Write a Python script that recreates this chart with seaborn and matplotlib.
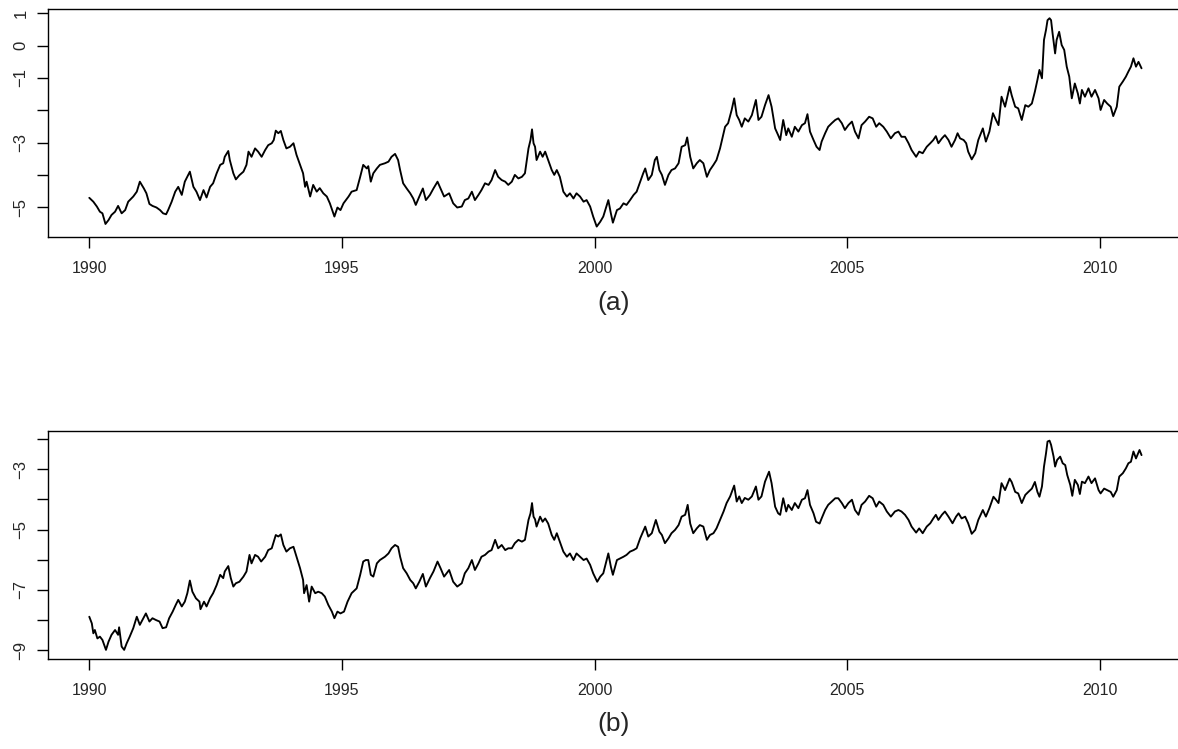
import numpy as np
import pandas as pd
import matplotlib
matplotlib.use("Agg")
import matplotlib.pyplot as plt
import seaborn as sns

sns.set_style("ticks")
plt.rcParams['font.family'] = ['Liberation Sans', 'DejaVu Sans']
plt.rcParams['axes.unicode_minus'] = True

# series (a): decimal year / value
years_a = [
    1990.00, 1990.08, 1990.15, 1990.21, 1990.26, 1990.32, 1990.38, 1990.44, 1990.51, 1990.57,
    1990.64, 1990.71, 1990.77, 1990.87, 1990.94, 1991.00, 1991.08, 1991.13, 1991.19, 1991.25,
    1991.33, 1991.40, 1991.46, 1991.52, 1991.56, 1991.63, 1991.70, 1991.76, 1991.83, 1991.89,
    1991.99, 1992.06, 1992.12, 1992.19, 1992.26, 1992.32, 1992.39, 1992.45, 1992.52, 1992.59,
    1992.65, 1992.68, 1992.75, 1992.78, 1992.85, 1992.90, 1992.97, 1993.05, 1993.11, 1993.15,
    1993.21, 1993.28, 1993.34, 1993.41, 1993.48, 1993.54, 1993.61, 1993.65, 1993.69, 1993.74,
    1993.79, 1993.84, 1993.90, 1993.97, 1994.04, 1994.10, 1994.17, 1994.23, 1994.27, 1994.30,
    1994.37, 1994.43, 1994.50, 1994.56, 1994.63, 1994.70, 1994.76, 1994.85, 1994.91, 1994.97,
    1995.03, 1995.13, 1995.19, 1995.29, 1995.36, 1995.42, 1995.49, 1995.52, 1995.57, 1995.62,
    1995.69, 1995.75, 1995.85, 1995.92, 1995.98, 1996.05, 1996.11,
    1996.15, 1996.21, 1996.28, 1996.35, 1996.41, 1996.46, 1996.53, 1996.60, 1996.66, 1996.74,
    1996.81, 1996.89, 1996.95, 1997.02, 1997.12, 1997.20, 1997.28, 1997.37, 1997.43, 1997.50,
    1997.57, 1997.63, 1997.70, 1997.76, 1997.83, 1997.90, 1997.96, 1998.03, 1998.09, 1998.16,
    1998.23, 1998.29, 1998.36, 1998.42, 1998.49, 1998.56, 1998.62, 1998.69, 1998.73, 1998.76,
    1998.79, 1998.82, 1998.85, 1998.92, 1998.97, 1999.02, 1999.08, 1999.15, 1999.20, 1999.25,
    1999.31, 1999.38, 1999.45, 1999.51, 1999.58, 1999.64, 1999.71, 1999.78, 1999.84, 1999.91,
    1999.97, 2000.04, 2000.11, 2000.17, 2000.27, 2000.32, 2000.36, 2000.44, 2000.50, 2000.57,
    2000.63, 2000.70, 2000.77, 2000.83, 2000.90, 2000.96, 2001.00, 2001.06, 2001.13, 2001.19,
    2001.23, 2001.28, 2001.33, 2001.39, 2001.46, 2001.52, 2001.59, 2001.66, 2001.72, 2001.79,
    2001.83, 2001.89, 2001.95, 2002.02, 2002.08, 2002.15, 2002.22, 2002.28, 2002.35, 2002.41,
    2002.48, 2002.55, 2002.58, 2002.64, 2002.71, 2002.76, 2002.81, 2002.86, 2002.91, 2002.97,
    2003.04, 2003.11, 2003.19, 2003.24, 2003.30, 2003.37, 2003.44, 2003.50, 2003.57, 2003.63,
    2003.67, 2003.73, 2003.79, 2003.83, 2003.90, 2003.96, 2004.03, 2004.10, 2004.16, 2004.21,
    2004.26, 2004.33, 2004.39, 2004.45, 2004.49, 2004.56, 2004.62, 2004.69, 2004.76, 2004.82,
    2004.89, 2004.95, 2005.02, 2005.09, 2005.15, 2005.22, 2005.28, 2005.35, 2005.43, 2005.50,
    2005.57, 2005.63, 2005.71, 2005.78, 2005.86, 2005.94, 2006.01, 2006.07, 2006.14, 2006.21,
    2006.27, 2006.36, 2006.42, 2006.49, 2006.57, 2006.64, 2006.70, 2006.75, 2006.80, 2006.87,
    2006.93, 2007.00, 2007.06, 2007.13, 2007.18, 2007.23, 2007.30, 2007.35, 2007.39, 2007.46,
    2007.53, 2007.59, 2007.68, 2007.74, 2007.81, 2007.88, 2007.94, 2007.99, 2008.05, 2008.12,
    2008.21, 2008.25, 2008.32, 2008.38, 2008.45, 2008.52, 2008.58, 2008.65, 2008.71, 2008.76,
    2008.80, 2008.85, 2008.89, 2008.93, 2008.96, 2009.00, 2009.03, 2009.06, 2009.11, 2009.14,
    2009.19, 2009.24, 2009.29, 2009.34, 2009.39, 2009.44, 2009.50, 2009.56, 2009.60, 2009.64,
    2009.70, 2009.77, 2009.83, 2009.90, 2009.97, 2010.01, 2010.08, 2010.14, 2010.21, 2010.26,
    2010.33, 2010.38, 2010.45, 2010.51, 2010.56, 2010.61, 2010.66, 2010.71, 2010.76, 2010.82,
]
values_a = [
    -4.71, -4.83, -4.98, -5.14, -5.19, -5.52, -5.40, -5.24, -5.14, -4.96,
    -5.19, -5.09, -4.83, -4.67, -4.52, -4.21, -4.42, -4.57, -4.90, -4.96,
    -5.01, -5.09, -5.19, -5.22, -5.09, -4.83, -4.52, -4.37, -4.62, -4.21,
    -3.90, -4.37, -4.52, -4.78, -4.47, -4.70, -4.37, -4.26, -3.95, -3.69,
    -3.64, -3.44, -3.26, -3.54, -3.95, -4.14, -4.01, -3.90, -3.69, -3.28,
    -3.44, -3.18, -3.28, -3.44, -3.23, -3.08, -3.02, -2.92, -2.63, -2.71,
    -2.64, -2.92, -3.18, -3.13, -3.02, -3.38, -3.69, -3.95, -4.37, -4.21,
    -4.67, -4.31, -4.52, -4.41, -4.57, -4.67, -4.88, -5.29, -5.01, -5.09,
    -4.88, -4.67, -4.52, -4.47, -4.06, -3.69, -3.80, -3.73, -4.21, -3.95,
    -3.80, -3.69, -3.64, -3.59, -3.44, -3.35, -3.54,
    -3.85, -4.26, -4.42, -4.57, -4.73, -4.93, -4.67, -4.42, -4.78, -4.62,
    -4.42, -4.21, -4.42, -4.67, -4.57, -4.88, -5.01, -4.98, -4.78, -4.73,
    -4.52, -4.78, -4.62, -4.47, -4.26, -4.31, -4.16, -3.85, -4.06, -4.16,
    -4.21, -4.31, -4.21, -4.00, -4.11, -4.06, -3.95, -3.18, -2.92, -2.59,
    -3.02, -3.13, -3.54, -3.28, -3.44, -3.28, -3.54, -3.85, -4.00, -3.85,
    -4.06, -4.52, -4.67, -4.57, -4.73, -4.57, -4.67, -4.83, -4.78, -4.98,
    -5.29, -5.60, -5.45, -5.29, -4.78, -5.19, -5.48, -5.09, -5.04, -4.88,
    -4.93, -4.78, -4.62, -4.52, -4.21, -3.95, -3.80, -4.16, -4.00, -3.54,
    -3.44, -3.85, -4.00, -4.31, -4.00, -3.85, -3.80, -3.64, -3.13, -3.08,
    -2.84, -3.44, -3.80, -3.64, -3.54, -3.64, -4.06, -3.85, -3.69, -3.54,
    -3.18, -2.71, -2.51, -2.40, -1.99, -1.63, -2.15, -2.30, -2.51, -2.25,
    -2.35, -2.15, -1.68, -2.30, -2.20, -1.84, -1.53, -1.89, -2.56, -2.77,
    -2.92, -2.30, -2.77, -2.56, -2.82, -2.51, -2.66, -2.46, -2.40, -2.12,
    -2.66, -2.92, -3.13, -3.23, -2.97, -2.71, -2.51, -2.40, -2.30, -2.25,
    -2.40, -2.61, -2.46, -2.35, -2.66, -2.87, -2.46, -2.35, -2.20, -2.25,
    -2.51, -2.40, -2.51, -2.66, -2.87, -2.71, -2.66, -2.82, -2.82, -3.02,
    -3.23, -3.44, -3.28, -3.33, -3.13, -3.02, -2.92, -2.80, -3.02, -2.87,
    -2.77, -2.92, -3.13, -2.92, -2.71, -2.87, -2.92, -3.02, -3.28, -3.52,
    -3.33, -2.92, -2.56, -2.97, -2.66, -2.09, -2.30, -2.46, -1.58, -1.89,
    -1.27, -1.53, -1.89, -1.94, -2.30, -1.84, -1.89, -1.79, -1.42, -1.06,
    -0.75, -1.01, 0.18, 0.49, 0.79, 0.85, 0.79, 0.38, -0.24, 0.18,
    0.43, 0.02, -0.13, -0.65, -0.96, -1.63, -1.17, -1.48, -1.79, -1.37,
    -1.58, -1.32, -1.58, -1.37, -1.63, -1.99, -1.68, -1.79, -1.89, -2.18,
    -1.89, -1.27, -1.11, -0.96, -0.80, -0.65, -0.39, -0.65, -0.50, -0.70,
]

# series (b)
years_b = [
    1990.00, 1990.05, 1990.08, 1990.11, 1990.16, 1990.21, 1990.26, 1990.33, 1990.38, 1990.44,
    1990.51, 1990.57, 1990.59, 1990.64, 1990.69, 1990.74, 1990.80, 1990.87, 1990.94, 1991.00,
    1991.07, 1991.12, 1991.19, 1991.25, 1991.32, 1991.39, 1991.45, 1991.52, 1991.58, 1991.65,
    1991.71, 1991.76, 1991.83, 1991.89, 1991.94, 1991.99, 1992.04, 1992.11, 1992.18, 1992.20,
    1992.27, 1992.32, 1992.39, 1992.45, 1992.52, 1992.59, 1992.65, 1992.68, 1992.75, 1992.80,
    1992.85, 1992.90, 1992.97, 1993.05, 1993.11, 1993.17, 1993.21, 1993.28, 1993.34, 1993.40,
    1993.48, 1993.54, 1993.61, 1993.65, 1993.69, 1993.74, 1993.79, 1993.84, 1993.90, 1993.97,
    1994.04, 1994.10, 1994.17, 1994.23, 1994.25, 1994.30, 1994.35, 1994.40, 1994.47, 1994.53,
    1994.60, 1994.66, 1994.73, 1994.80, 1994.85, 1994.91, 1994.97, 1995.04, 1995.11, 1995.19,
    1995.29, 1995.36, 1995.42, 1995.47, 1995.52, 1995.57, 1995.62, 1995.69, 1995.75, 1995.85,
    1995.92, 1995.98, 1996.05, 1996.11,
    1996.15, 1996.21, 1996.28, 1996.35, 1996.41, 1996.46, 1996.53, 1996.60, 1996.66, 1996.74,
    1996.81, 1996.89, 1996.95, 1997.02, 1997.12, 1997.20, 1997.28, 1997.37, 1997.43, 1997.50,
    1997.57, 1997.63, 1997.70, 1997.76, 1997.83, 1997.90, 1997.96, 1998.03, 1998.09, 1998.16,
    1998.23, 1998.29, 1998.36, 1998.42, 1998.49, 1998.56, 1998.62, 1998.69, 1998.73, 1998.76,
    1998.79, 1998.82, 1998.85, 1998.92, 1998.97, 1999.02, 1999.08, 1999.15, 1999.20, 1999.25,
    1999.31, 1999.38, 1999.45, 1999.51, 1999.58, 1999.64, 1999.71, 1999.78, 1999.84, 1999.91,
    1999.97, 2000.05, 2000.11, 2000.17, 2000.27, 2000.32, 2000.36, 2000.44, 2000.50, 2000.57,
    2000.63, 2000.70, 2000.77, 2000.83, 2000.90, 2001.00, 2001.06, 2001.13, 2001.21, 2001.28,
    2001.33, 2001.39, 2001.46, 2001.52, 2001.59, 2001.66, 2001.72, 2001.79, 2001.84, 2001.89,
    2001.95, 2002.02, 2002.08, 2002.15, 2002.22, 2002.28, 2002.35, 2002.41, 2002.48, 2002.55,
    2002.61, 2002.68, 2002.76, 2002.81, 2002.86, 2002.91, 2002.97, 2003.04, 2003.11, 2003.19,
    2003.24, 2003.30, 2003.37, 2003.45, 2003.50, 2003.57, 2003.63,
    2003.67, 2003.73, 2003.79, 2003.83, 2003.90, 2003.96, 2004.03, 2004.10, 2004.16, 2004.21,
    2004.26, 2004.33, 2004.38, 2004.45, 2004.49, 2004.56, 2004.62, 2004.69, 2004.76, 2004.82,
    2004.89, 2004.95, 2005.02, 2005.09, 2005.15, 2005.22, 2005.28, 2005.35, 2005.43, 2005.50,
    2005.57, 2005.63, 2005.71, 2005.78, 2005.86, 2005.94, 2006.01, 2006.07, 2006.14, 2006.21,
    2006.27, 2006.36, 2006.42, 2006.49, 2006.57, 2006.64, 2006.70, 2006.75, 2006.80, 2006.87,
    2006.93, 2007.00, 2007.08, 2007.15, 2007.20, 2007.26, 2007.33, 2007.39, 2007.46, 2007.53,
    2007.59, 2007.68, 2007.74, 2007.81, 2007.89, 2007.94, 2007.99, 2008.05, 2008.12, 2008.21,
    2008.25, 2008.32, 2008.38, 2008.45, 2008.52, 2008.58, 2008.65, 2008.71, 2008.76, 2008.80,
    2008.85, 2008.89, 2008.93, 2008.96, 2009.00, 2009.03, 2009.08, 2009.11, 2009.15, 2009.21,
    2009.26, 2009.31, 2009.35, 2009.41, 2009.45, 2009.50, 2009.56, 2009.60, 2009.64, 2009.70,
    2009.77, 2009.83, 2009.90, 2009.97, 2010.01, 2010.08, 2010.14, 2010.21, 2010.26, 2010.33,
    2010.38, 2010.45, 2010.51, 2010.56, 2010.61, 2010.66, 2010.71, 2010.78, 2010.82,
]
values_b = [
    -7.89, -8.11, -8.44, -8.33, -8.61, -8.55, -8.66, -8.99, -8.72, -8.49,
    -8.33, -8.49, -8.24, -8.88, -8.99, -8.77, -8.55, -8.27, -7.89, -8.16,
    -7.94, -7.78, -8.05, -7.94, -8.00, -8.05, -8.27, -8.24, -7.94, -7.72,
    -7.50, -7.33, -7.55, -7.39, -7.11, -6.69, -7.06, -7.28, -7.39, -7.64,
    -7.39, -7.55, -7.28, -7.11, -6.84, -6.50, -6.61, -6.39, -6.21, -6.61,
    -6.89, -6.78, -6.73, -6.56, -6.39, -5.84, -6.12, -5.84, -5.90, -6.06,
    -5.90, -5.68, -5.62, -5.40, -5.18, -5.23, -5.16, -5.51, -5.73, -5.62,
    -5.57, -5.90, -6.28, -6.67, -7.11, -6.84, -7.39, -6.89, -7.11, -7.06,
    -7.11, -7.22, -7.50, -7.72, -7.94, -7.72, -7.78, -7.72, -7.39, -7.11,
    -6.95, -6.50, -6.06, -6.01, -6.01, -6.50, -6.56, -6.12, -6.01, -5.90,
    -5.79, -5.62, -5.51, -5.57,
    -5.90, -6.28, -6.45, -6.67, -6.78, -6.95, -6.73, -6.47, -6.89, -6.61,
    -6.39, -6.06, -6.28, -6.56, -6.34, -6.73, -6.89, -6.78, -6.45, -6.28,
    -6.01, -6.34, -6.12, -5.90, -5.84, -5.73, -5.68, -5.34, -5.62, -5.51,
    -5.68, -5.62, -5.62, -5.45, -5.34, -5.40, -5.34, -4.68, -4.46, -4.12,
    -4.57, -4.66, -4.90, -4.57, -4.74, -4.63, -4.80, -5.18, -5.34, -5.12,
    -5.40, -5.73, -5.90, -5.79, -6.01, -5.79, -5.90, -6.01, -5.96, -6.17,
    -6.45, -6.73, -6.56, -6.45, -5.79, -6.23, -6.50, -6.01, -5.96, -5.90,
    -5.84, -5.73, -5.68, -5.62, -5.29, -4.90, -5.23, -5.12, -4.68, -5.07,
    -5.18, -5.45, -5.29, -5.12, -5.01, -4.85, -4.57, -4.51, -4.18, -4.80,
    -5.12, -4.96, -4.85, -4.90, -5.34, -5.18, -5.12, -4.96, -4.68, -4.40,
    -4.12, -3.90, -3.54, -4.07, -3.90, -4.12, -3.95, -4.01, -3.90, -3.57,
    -4.01, -3.90, -3.41, -3.08, -3.46, -4.24, -4.46,
    -4.51, -3.96, -4.40, -4.18, -4.35, -4.12, -4.29, -4.01, -3.96, -3.69,
    -4.18, -4.46, -4.74, -4.80, -4.63, -4.35, -4.18, -4.07, -3.96, -3.96,
    -4.12, -4.29, -4.12, -4.01, -4.35, -4.51, -4.18, -4.07, -3.88, -3.96,
    -4.24, -4.07, -4.18, -4.40, -4.57, -4.40, -4.35, -4.40, -4.51, -4.68,
    -4.90, -5.10, -4.96, -5.12, -4.90, -4.79, -4.63, -4.51, -4.68, -4.51,
    -4.40, -4.57, -4.79, -4.57, -4.46, -4.63, -4.57, -4.79, -5.14, -5.01,
    -4.68, -4.35, -4.57, -4.29, -3.91, -4.01, -4.12, -3.46, -3.69, -3.31,
    -3.42, -3.75, -3.80, -4.12, -3.85, -3.75, -3.64, -3.42, -3.75, -3.91,
    -3.57, -2.91, -2.47, -2.08, -2.05, -2.19, -2.58, -2.91, -2.69, -2.58,
    -2.80, -2.86, -3.19, -3.52, -3.88, -3.35, -3.52, -3.82, -3.41, -3.46,
    -3.24, -3.46, -3.30, -3.69, -3.80, -3.64, -3.69, -3.75, -3.91, -3.69,
    -3.24, -3.13, -2.97, -2.80, -2.75, -2.41, -2.64, -2.36, -2.53,
]

x_ticks = [1990, 1995, 2000, 2005, 2010]
y_ticks_a = [-5, -4, -3, -2, -1, 0, 1]
y_labels_a = ['\u22125', '', '\u22123', '', '\u22121', '0', '1']
y_ticks_b = [-9, -8, -7, -6, -5, -4, -3, -2]
y_labels_b = ['\u22129', '', '\u22127', '', '\u22125', '', '\u22123', '']

df_a = pd.DataFrame({'year': years_a, 'value': values_a})
df_b = pd.DataFrame({'year': years_b, 'value': values_b})

W, H = 1178, 749
fig = plt.figure(figsize=(W / 100, H / 100), dpi=100)

def panel(top_px, df, yticks, ylabels, ylim, caption, cap_px):
    ax = fig.add_axes([48 / W, 1 - (top_px + 228) / H, 1140 / W, 228 / H])
    sns.lineplot(data=df, x='year', y='value', ax=ax, color='black',
                 linewidth=1.35, estimator=None, sort=False)
    ax.set_xlim(1989.183, 1989.183 + 1140 / 50.54)
    ax.set_ylim(*ylim)
    ax.set_xticks(x_ticks, [str(t) for t in x_ticks])
    ax.set_yticks(yticks, ylabels)
    ax.set_xlabel('')
    ax.set_ylabel('')
    ax.tick_params(axis='both', length=8, width=1.0, color='black')
    ax.tick_params(axis='x', pad=9, labelsize=11.5)
    ax.tick_params(axis='y', pad=6, labelsize=12, labelrotation=90)
    for lab in ax.get_yticklabels():
        lab.set_verticalalignment('center')
    for s in ax.spines.values():
        s.set_linewidth(1.0)
        s.set_color('black')
    ax.spines['right'].set_visible(False)
    fig.text(614 / W, 1 - cap_px / H, caption, ha='center', va='center', fontsize=19)
    return ax

panel(9, df_a, y_ticks_a, y_labels_a, (-5.923, 1.136), '(a)', 303)
panel(431, df_b, y_ticks_b, y_labels_b, (-9.292, -1.730), '(b)', 724)

fig.savefig('out.png', dpi=100)
